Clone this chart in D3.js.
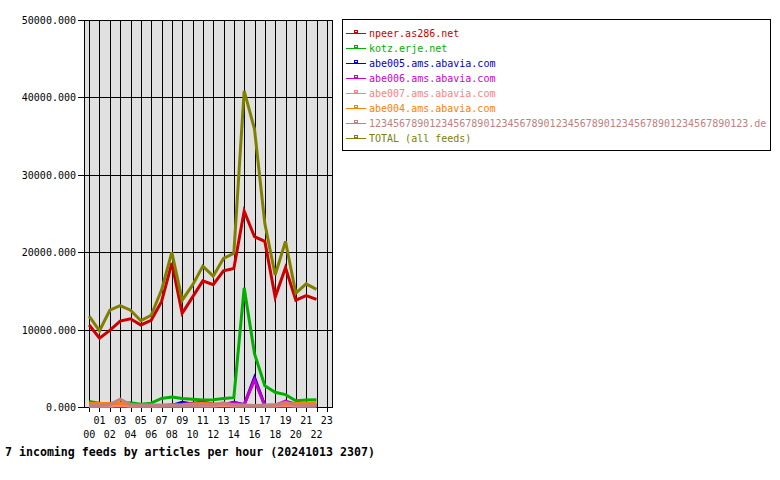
<!DOCTYPE html>
<html><head><meta charset="utf-8">
<script src="https://cdn.jsdelivr.net/npm/d3@7"></script>
<style>
body{margin:0;background:#fff;}
text{font-family:"DejaVu Sans Mono","Liberation Mono",monospace;}
</style></head>
<body><svg id="c" width="780" height="480"></svg>
<script>
const hours = ["00","01","02","03","04","05","06","07","08","09","10","11","12","13","14","15","16","17","18","19","20","21","22","23"];
const yTicks = [0,10000,20000,30000,40000,50000];
const seriesNames = ["npeer.as286.net","kotz.erje.net","abe005.ams.abavia.com","abe006.ams.abavia.com","abe007.ams.abavia.com","abe004.ams.abavia.com","123456789012345678901234567890123456789012345678901234567890123.de","TOTAL (all feeds)"];
const seriesColors = ["#cc0000","#00b000","#0000cc","#cc00cc","#ff8080","#ff8000","#c08080","#808000"];
const npeer = [10600,8900,9900,11100,11400,10600,11200,13600,18600,12100,14200,16300,15800,17600,17900,25300,22000,21400,14200,18000,13800,14400,13900];
const kotz = [700,500,450,500,550,350,500,1100,1300,1100,1000,900,950,1100,1200,15400,6900,2750,1900,1600,800,900,950];
const abe005 = [100,100,150,300,150,100,100,150,200,600,400,200,250,300,600,300,3800,200,150,300,200,200,200];
const abe006 = [100,100,100,200,100,100,100,150,300,350,500,650,400,300,550,300,3500,150,200,750,350,200,200];
const abe007 = [100,100,100,150,100,100,100,100,100,100,100,100,100,150,100,100,100,100,100,150,100,100,100];
const abe004 = [450,450,450,500,300,250,250,250,250,300,400,450,400,350,300,250,200,250,300,350,450,500,550];
const de123 = [200,200,300,1000,300,200,200,200,200,200,200,250,250,550,250,200,200,200,250,600,250,200,200];
const total = [11750,9850,12500,13100,12500,11150,11850,15100,19990,13800,15750,18200,16900,19200,19850,40850,35900,23700,17050,21400,14700,15900,15200];
const allSeries = [npeer,kotz,abe005,abe006,abe007,abe004,de123,total];

const svg = d3.select("#c");
const L=84,R=332,T=20,B=407;
const x = d3.scalePoint().domain(hours).range([L,R]).padding(0.5);
const y = d3.scaleLinear().domain([0,50000]).range([B,T]);

svg.append("rect").attr("x",L).attr("y",T).attr("width",R-L).attr("height",B-T).attr("fill","#e0e0e0");
// vertical grid
svg.append("g").selectAll("line").data(hours).join("line")
  .attr("x1",d=>Math.round(x(d))+0.5).attr("x2",d=>Math.round(x(d))+0.5)
  .attr("y1",T).attr("y2",B+5).attr("stroke","#000").attr("stroke-width",1);
// horizontal grid
svg.append("g").selectAll("line").data(yTicks).join("line")
  .attr("x1",L-6).attr("x2",R).attr("y1",d=>Math.round(y(d))+0.5).attr("y2",d=>Math.round(y(d))+0.5)
  .attr("stroke","#000").attr("stroke-width",1);
// borders
svg.append("line").attr("x1",L+0.5).attr("x2",L+0.5).attr("y1",T).attr("y2",B+1).attr("stroke","#000");
svg.append("line").attr("x1",R+0.5).attr("x2",R+0.5).attr("y1",T).attr("y2",B+1).attr("stroke","#000");

// y labels
svg.append("g").selectAll("text").data(yTicks).join("text")
  .attr("x",76).attr("y",d=>y(d)+4).attr("text-anchor","end")
  .attr("font-size","10px").attr("fill","#000")
  .text(d=>d3.format(".3f")(d));
// x labels
svg.append("g").selectAll("text").data(hours).join("text")
  .attr("x",d=>x(d)).attr("y",(d,i)=> i%2 ? 424 : 438).attr("text-anchor","middle")
  .attr("font-size","10px").attr("fill","#000").text(d=>d);

// lines
const line = d3.line().x((d,i)=>x(hours[i])).y(d=>y(d));
allSeries.forEach((s,k)=>{
  svg.append("path").datum(s).attr("d",line).attr("fill","none")
    .attr("stroke",seriesColors[k]).attr("stroke-width",3).attr("stroke-linejoin","miter");
});

// title
svg.append("text").attr("x",5).attr("y",456).attr("font-size","11.6px").attr("font-weight","bold")
  .attr("fill","#000").text("7 incoming feeds by articles per hour (20241013 2307)");

// legend
const lg = svg.append("g");
lg.append("rect").attr("x",342.5).attr("y",19.5).attr("width",428).attr("height",131)
  .attr("fill","#fff").attr("stroke","#000").attr("stroke-width",1);
seriesNames.forEach((n,i)=>{
  const yy = 33 + i*15;
  lg.append("line").attr("x1",346).attr("x2",366).attr("y1",yy+0.5).attr("y2",yy+0.5).attr("stroke",seriesColors[i]);
  lg.append("rect").attr("x",354.5).attr("y",yy-2.5).attr("width",3).attr("height",2).attr("fill","#fff").attr("stroke",seriesColors[i]);
  lg.append("text").attr("x",369).attr("y",yy+4).attr("font-size","10px").attr("fill",seriesColors[i]).text(n);
});
</script></body></html>
